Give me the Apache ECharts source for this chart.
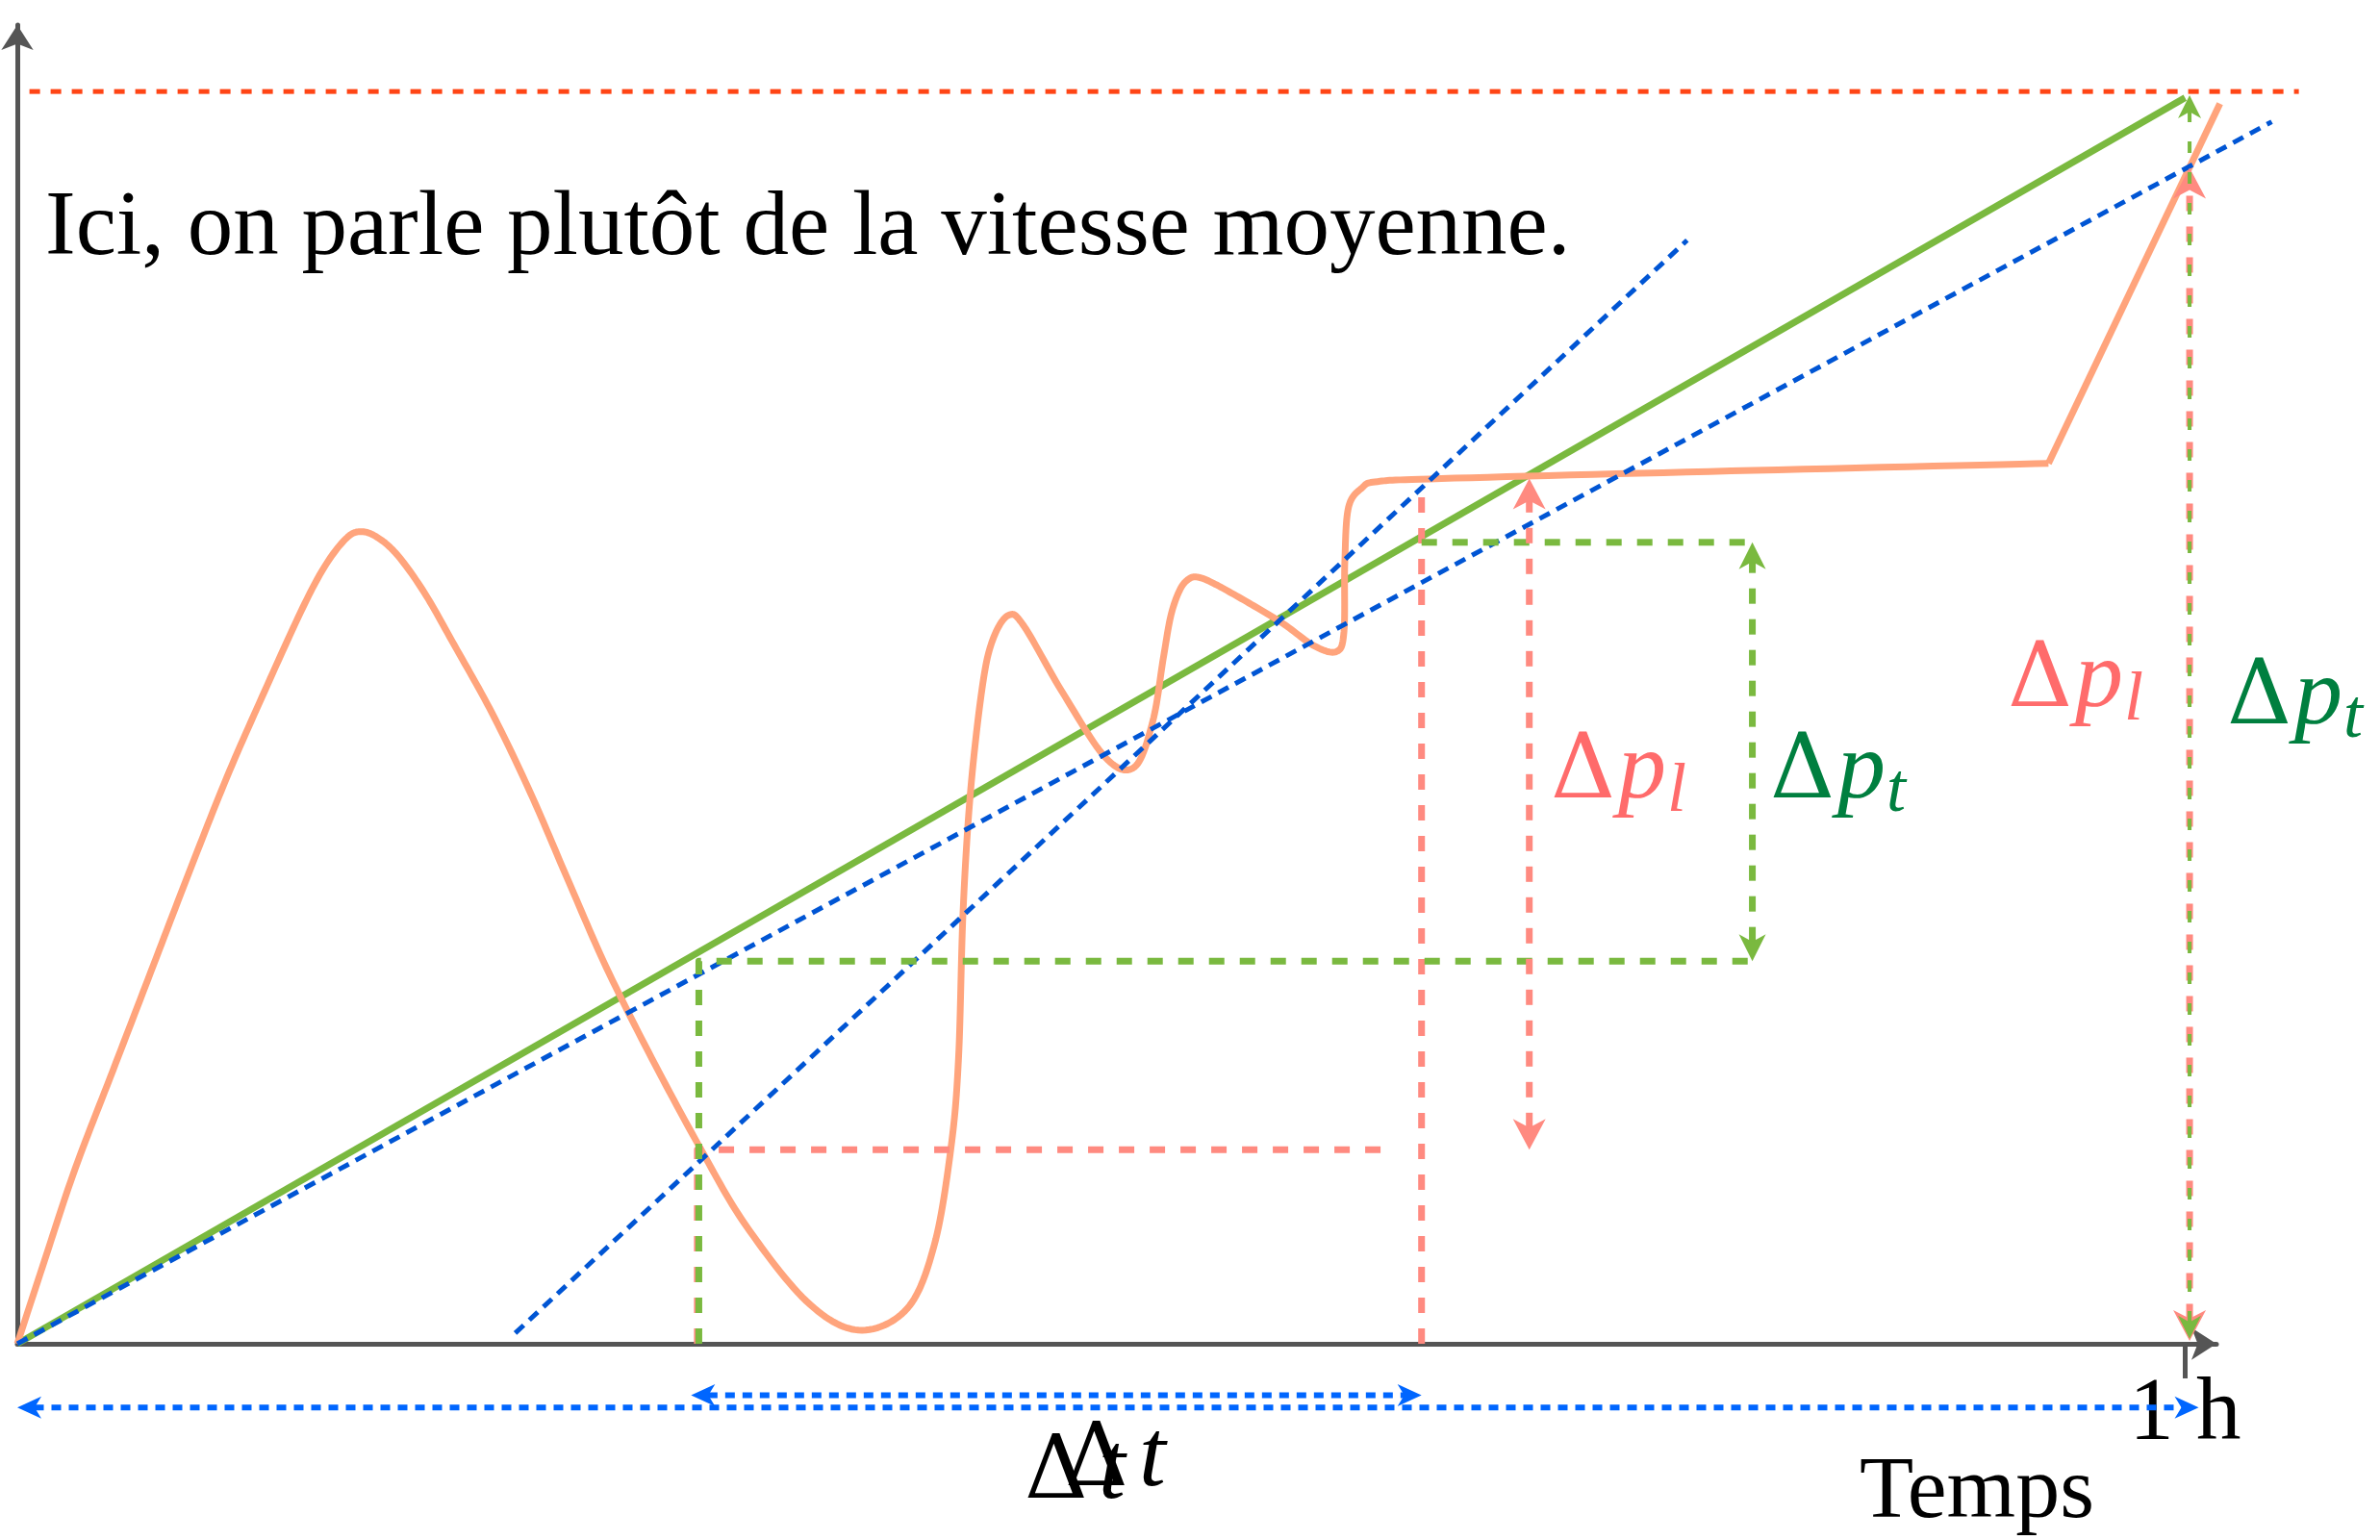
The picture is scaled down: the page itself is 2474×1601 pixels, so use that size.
<!DOCTYPE html>
<html><head><meta charset="utf-8">
<script src="https://cdn.jsdelivr.net/npm/echarts@6/dist/echarts.min.js"></script>
<style>html,body{margin:0;padding:0;background:#fff}#c{width:2474px;height:1601px}</style>
</head><body><div id="c"></div>
<script>
// x: time in hours, y: position as a fraction of the maximum position
const orangeTrip = [[0,0],[0.0126,0.0667],[0.0266,0.1394],[0.0441,0.2182],[0.0616,0.2970],[0.0791,0.3758],[0.0966,0.4521],[0.1141,0.5212],[0.1317,0.5879],[0.1422,0.6218],[0.1513,0.6424],[0.1576,0.6485],[0.1653,0.6448],[0.1751,0.6303],[0.1877,0.6000],[0.2017,0.5576],[0.2192,0.5030],[0.2367,0.4400],[0.2542,0.3697],[0.2717,0.3006],[0.2927,0.2279],[0.3158,0.1539],[0.3361,0.0945],[0.3641,0.0339],[0.3880,0.0109],[0.4104,0.0279],[0.4230,0.0788],[0.4307,0.1564],[0.4342,0.2279],[0.4363,0.3455],[0.4398,0.4424],[0.4454,0.5273],[0.4503,0.5636],[0.4573,0.5818],[0.4643,0.5733],[0.4818,0.5212],[0.5021,0.4679],[0.5154,0.4606],[0.5238,0.4970],[0.5287,0.5479],[0.5322,0.5818],[0.5364,0.6024],[0.5406,0.6109],[0.5448,0.6121],[0.5518,0.6073],[0.5658,0.5939],[0.5833,0.5758],[0.5980,0.5576],[0.6085,0.5527],[0.6120,0.5685],[0.6124,0.6242],[0.6141,0.6679],[0.6204,0.6836],[0.6275,0.6885],[0.6569,0.6909],[0.7906,0.6970],[0.9370,0.7030]];
const orangeEnd = [[0.9370,0.7030],[1.0161,0.9903]];
const greenAverage = [[0,0],[1,0.995]];
const blueAverage = [[0,0],[1.040,0.9758]];
const blueLocal = [[0.2297,0.0085],[0.7703,0.8812]];
const maxLine = [[0.0056,1],[1.0525,1]];
const greenGuideLow = [[0.3144,0],[0.3144,0.3055],[0.8004,0.3055]];
const greenGuideHigh = [[0.6478,0.64],[0.8004,0.64]];
const redGuideLow = [[0.3137,0],[0.3137,0.155],[0.6359,0.155]];
const redGuideHigh = [[0.6478,0],[0.6478,0.687]];
const redArrows = [[0.6975,0.155,0.6975,0.691],[1.0021,0.0024,1.0021,0.939]];
const greenArrows = [[0.8004,0.3055,0.8004,0.64]];
const greenThinArrows = [[1.0021,0.004,1.0021,0.997]];
const blueArrows = [[0,-0.0509,1.0063,-0.0509],[0.3108,-0.0411,0.6478,-0.0411]];
const xTicks = [1];
const xTickLabels = ['1 h'];

const SERIF = '"Liberation Serif", "DejaVu Serif", serif';
const DELTA_FONT = '"DejaVu Serif", serif';

// Catmull-Rom interpolation through the projected points (rendering only)
function catmull(pts, steps) {
  const out = [pts[0]];
  for (let i = 0; i < pts.length - 1; i++) {
    const p0 = pts[Math.max(i-1, 0)], p1 = pts[i], p2 = pts[i+1], p3 = pts[Math.min(i+2, pts.length-1)];
    const c1 = [p1[0] + (p2[0]-p0[0])/6, p1[1] + (p2[1]-p0[1])/6];
    const c2 = [p2[0] - (p3[0]-p1[0])/6, p2[1] - (p3[1]-p1[1])/6];
    for (let s = 1; s <= steps; s++) {
      const t = s/steps, u = 1-t;
      out.push([u*u*u*p1[0] + 3*u*u*t*c1[0] + 3*u*t*t*c2[0] + t*t*t*p2[0],
                u*u*u*p1[1] + 3*u*u*t*c1[1] + 3*u*t*t*c2[1] + t*t*t*p2[1]]);
    }
  }
  return out;
}
function pathSeries(points, color, width, dash, z, curved) {
  return {type:'custom', coordinateSystem:'cartesian2d', clip:false, silent:true, z,
    data: points, encode:{x:0, y:1},
    renderItem(params, api) {
      if (params.dataIndex !== 0) return null;
      let pts = points.map(p => api.coord(p));
      if (curved) pts = catmull(pts, 14);
      return {type:'polyline', shape:{points:pts},
        style:{stroke:color, lineWidth:width, lineDash: dash, fill:'none', lineCap:'butt', lineJoin:'round'}};
    }};
}
function arrowSeries(data, color, width, dash, headL, headW, z) {
  return {
    type:'custom', coordinateSystem:'cartesian2d', clip:false, silent:true, z,
    data, encode:{x:[0,2], y:[1,3]},
    renderItem(params, api) {
      const a = api.coord([api.value(0), api.value(1)]);
      const b = api.coord([api.value(2), api.value(3)]);
      const dx = b[0]-a[0], dy = b[1]-a[1], len = Math.hypot(dx, dy);
      const ux = dx/len, uy = dy/len;
      function head(p, sx, sy) {
        const bx = p[0]-sx*headL, by = p[1]-sy*headL, nx = -sy, ny = sx;
        return {type:'polygon', shape:{points:[[p[0],p[1]],[bx+nx*headW/2,by+ny*headW/2],
          [p[0]-sx*headL*0.72,p[1]-sy*headL*0.72],[bx-nx*headW/2,by-ny*headW/2]]}, style:{fill:color}};
      }
      const inset = headL*0.7;
      return {type:'group', children:[
        {type:'line', shape:{x1:a[0]+ux*inset, y1:a[1]+uy*inset, x2:b[0]-ux*inset, y2:b[1]-uy*inset},
          style:{stroke:color, lineWidth:width, lineDash:dash}},
        head(b, ux, uy), head(a, -ux, -uy)
      ]};
    }
  };
}
function txt(x, baseline, text, size, color, italic, family) {
  return {type:'text', x, y: baseline - 0.27*size, z:100,
    style:{text, fontSize:size, fontFamily:family || SERIF, fontStyle: italic ? 'italic' : 'normal', fill:color, verticalAlign:'middle'}};
}
function deltaP(x, baseline, sub, color) {
  return [txt(x, baseline, 'Δ', 93, color, false, DELTA_FONT), txt(x+70, baseline, 'p', 100, color, true),
          txt(x+121, baseline+14, sub, 72, color, true)];
}

const chart = echarts.init(document.getElementById('c'), null, {renderer:'canvas'});
chart.setOption({
  animation:false,
  backgroundColor:'#fff',
  grid:{left:18, top:26, right:170, bottom:204, containLabel:false},
  xAxis:{type:'value', min:0, max:1.0145, splitLine:{show:false},
    axisLine:{show:true, onZero:false, symbol:['none','arrow'], symbolSize:[25,26], lineStyle:{color:'#555', width:5}},
    axisTick:{show:true, customValues:xTicks, length:36, lineStyle:{color:'#555', width:5}},
    axisLabel:{show:true, customValues:xTicks, formatter:(v)=>xTickLabels[xTicks.indexOf(v)] || '',
      margin:28, fontFamily:SERIF, fontSize:93, lineHeight:93, color:'#000'}},
  yAxis:{type:'value', min:0, max:1.0531, splitLine:{show:false},
    axisLine:{show:true, onZero:false, symbol:['none','arrow'], symbolSize:[25,26], lineStyle:{color:'#555', width:5}},
    axisTick:{show:false}, axisLabel:{show:false}},
  series:[
    pathSeries(maxLine, '#ff4515', 5, [11,11], 2),
    pathSeries(greenAverage, '#7ab93f', 7, null, 3),
    pathSeries(orangeTrip, '#ffa47c', 7, null, 4, true),
    pathSeries(orangeEnd, '#ffa47c', 7, null, 4),
    pathSeries(blueAverage, '#0055d4', 5, [12,8], 5),
    pathSeries(blueLocal, '#0055d4', 5, [12,8], 5),
    pathSeries(redGuideLow, '#ff8a80', 7, [16,16], 6),
    pathSeries(redGuideHigh, '#ff8a80', 7, [16,16], 6),
    pathSeries(greenGuideLow, '#7ab93f', 7, [16,16], 7),
    pathSeries(greenGuideHigh, '#7ab93f', 7, [16,16], 7),
    arrowSeries(redArrows, '#ff8a80', 7, [16,16], 32, 34, 8),
    arrowSeries(greenArrows, '#7ab93f', 7, [16,16], 28, 28, 9),
    arrowSeries(greenThinArrows, '#7ab93f', 4, [12,20], 24, 24, 9),
    arrowSeries(blueArrows, '#0066ff', 6, [10,8], 25, 23, 9)
  ],
  graphic:[
    txt(47, 265, 'Ici, on parle plutôt de la vitesse moyenne.', 95, '#000', false),
    txt(1933, 1578, 'Temps', 92, '#000', false),
    txt(1065, 1558, 'Δ', 91, '#000', false, DELTA_FONT), txt(1142, 1558, 't', 100, '#000', true),
    txt(1107, 1545, 'Δ', 91, '#000', false, DELTA_FONT), txt(1184, 1545, 't', 100, '#000', true),
    ...deltaP(1612, 830, 'l', '#ff6b6b'),
    ...deltaP(1840, 830, 't', '#007f3f'),
    ...deltaP(2087, 735, 'l', '#ff6b6b'),
    ...deltaP(2315, 753, 't', '#007f3f')
  ]
});
</script></body></html>
